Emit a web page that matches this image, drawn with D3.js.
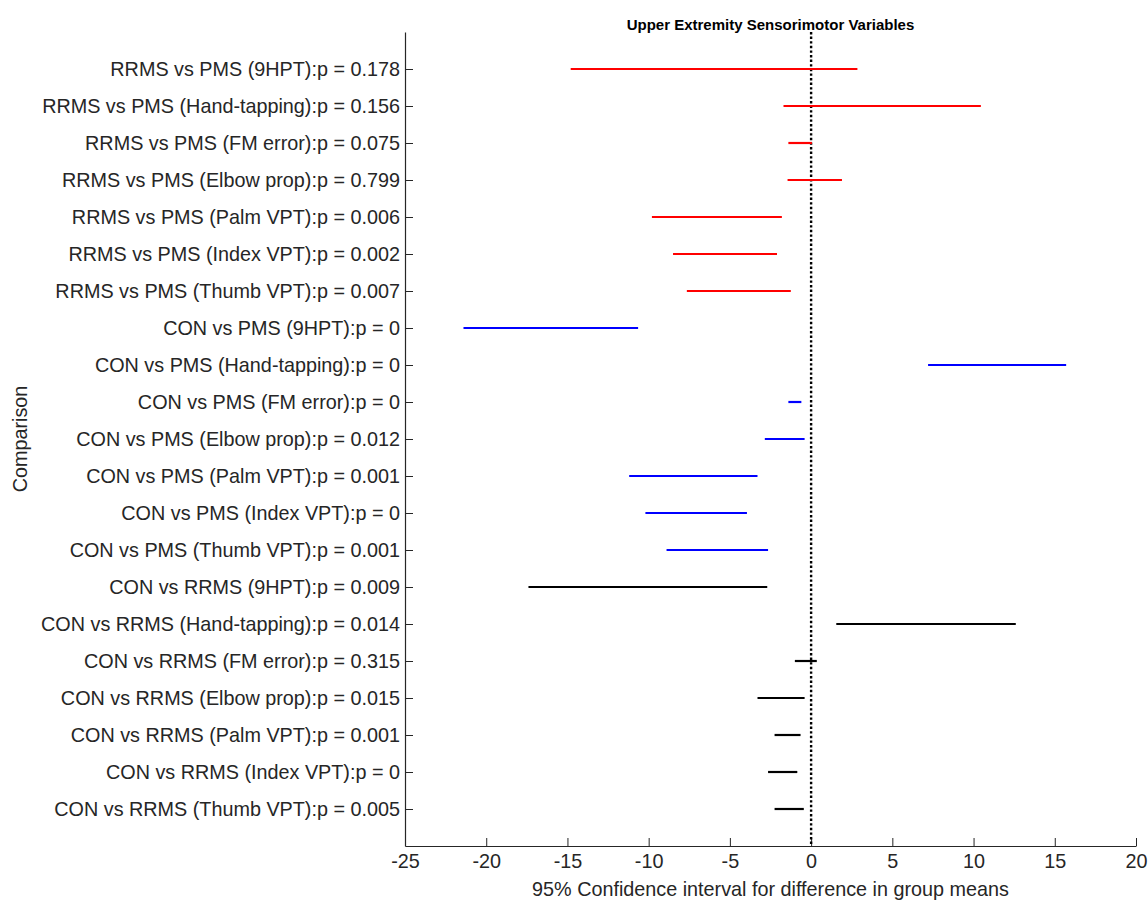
<!DOCTYPE html>
<html>
<head>
<meta charset="utf-8">
<script src="https://cdn.jsdelivr.net/npm/d3@7"></script>
<style>
  body { margin: 0; background: #fff; }
  text { font-family: "Liberation Sans", Arial, Helvetica, sans-serif; }
</style>
</head>
<body>
<svg id="chart" width="1148" height="902"></svg>
<script>
// ---- data ----
const labels = [
  "RRMS vs PMS (9HPT):p = 0.178",
  "RRMS vs PMS (Hand-tapping):p = 0.156",
  "RRMS vs PMS (FM error):p = 0.075",
  "RRMS vs PMS (Elbow prop):p = 0.799",
  "RRMS vs PMS (Palm VPT):p = 0.006",
  "RRMS vs PMS (Index VPT):p = 0.002",
  "RRMS vs PMS (Thumb VPT):p = 0.007",
  "CON vs PMS (9HPT):p = 0",
  "CON vs PMS (Hand-tapping):p = 0",
  "CON vs PMS (FM error):p = 0",
  "CON vs PMS (Elbow prop):p = 0.012",
  "CON vs PMS (Palm VPT):p = 0.001",
  "CON vs PMS (Index VPT):p = 0",
  "CON vs PMS (Thumb VPT):p = 0.001",
  "CON vs RRMS (9HPT):p = 0.009",
  "CON vs RRMS (Hand-tapping):p = 0.014",
  "CON vs RRMS (FM error):p = 0.315",
  "CON vs RRMS (Elbow prop):p = 0.015",
  "CON vs RRMS (Palm VPT):p = 0.001",
  "CON vs RRMS (Index VPT):p = 0",
  "CON vs RRMS (Thumb VPT):p = 0.005"
];
const lower = [-14.8, -1.7, -1.4, -1.45, -9.8, -8.5, -7.65,
               -21.4, 7.2, -1.4, -2.85, -11.2, -10.2, -8.9,
               -17.4, 1.55, -1.0, -3.3, -2.25, -2.65, -2.25];
const upper = [2.85, 10.45, 0.05, 1.9, -1.8, -2.1, -1.25,
               -10.65, 15.7, -0.6, -0.4, -3.3, -3.95, -2.65,
               -2.7, 12.6, 0.35, -0.4, -0.65, -0.85, -0.45];
const groups = ["RRMS-PMS","RRMS-PMS","RRMS-PMS","RRMS-PMS","RRMS-PMS","RRMS-PMS","RRMS-PMS",
                "CON-PMS","CON-PMS","CON-PMS","CON-PMS","CON-PMS","CON-PMS","CON-PMS",
                "CON-RRMS","CON-RRMS","CON-RRMS","CON-RRMS","CON-RRMS","CON-RRMS","CON-RRMS"];
const groupNames = ["RRMS-PMS", "CON-PMS", "CON-RRMS"];
const groupColors = ["#ff0000", "#0000ff", "#000000"];
const xTicks = [-25, -20, -15, -10, -5, 0, 5, 10, 15, 20];
const titleText = "Upper Extremity Sensorimotor Variables";
const xLabelText = "95% Confidence interval for difference in group means";
const yLabelText = "Comparison";

// ---- layout ----
const svg = d3.select("#chart");
const mLeft = 405, mRight = 1136, mTop = 32, mBottom = 846;
const ink = "#262626";
const fs = 19.8;

const x = d3.scaleLinear().domain([-25, 20]).range([mLeft, mRight]);
const y = d3.scaleLinear().domain([0, labels.length + 1]).range([mTop, mBottom]);
const color = d3.scaleOrdinal().domain(groupNames).range(groupColors);

const rows = labels.map((l, i) => ({ label: l, lo: lower[i], hi: upper[i], g: groups[i], pos: i + 1 }));

// x axis
const xAxis = d3.axisBottom(x).tickValues(xTicks).tickSizeInner(-8).tickSizeOuter(0).tickPadding(8)
  .tickFormat(d3.format("d"));
const gx = svg.append("g").attr("transform", `translate(0,${mBottom})`).call(xAxis);
gx.select(".domain").attr("stroke", ink).attr("stroke-width", 1.2);
gx.selectAll(".tick line").attr("stroke", ink).attr("stroke-width", 1);
gx.selectAll(".tick text").attr("fill", ink).attr("font-size", fs)
  .text(d => d < 0 ? "-" + Math.abs(d) : d);

// y axis
const yAxis = d3.axisLeft(y).tickValues(rows.map(r => r.pos)).tickSizeInner(-8).tickSizeOuter(0).tickPadding(5)
  .tickFormat((d, i) => labels[i]);
const gy = svg.append("g").attr("transform", `translate(${mLeft},0)`).call(yAxis);
gy.select(".domain").attr("stroke", ink).attr("stroke-width", 1.2);
gy.selectAll(".tick line").attr("stroke", ink).attr("stroke-width", 1);
gy.selectAll(".tick text").attr("fill", ink).attr("font-size", fs);

// zero reference line
svg.append("line")
  .attr("x1", x(0)).attr("x2", x(0)).attr("y1", mTop).attr("y2", mBottom)
  .attr("stroke", "#000").attr("stroke-width", 2.4).attr("stroke-dasharray", "2.4,2.2");

// interval lines
svg.append("g").selectAll("line").data(rows).join("line")
  .attr("x1", d => x(d.lo)).attr("x2", d => x(d.hi))
  .attr("y1", d => y(d.pos)).attr("y2", d => y(d.pos))
  .attr("stroke", d => color(d.g)).attr("stroke-width", 2.2);

// title
svg.append("text").attr("x", (mLeft + mRight) / 2).attr("y", 30)
  .attr("text-anchor", "middle").attr("font-weight", "bold").attr("font-size", 15)
  .attr("fill", "#000").text(titleText);

// x label
svg.append("text").attr("x", (mLeft + mRight) / 2).attr("y", 896)
  .attr("text-anchor", "middle").attr("font-size", fs).attr("fill", ink).text(xLabelText);

// y label
svg.append("text").attr("transform", `translate(27,${(mTop + mBottom) / 2}) rotate(-90)`)
  .attr("text-anchor", "middle").attr("font-size", fs).attr("fill", ink).text(yLabelText);
</script>
</body>
</html>
